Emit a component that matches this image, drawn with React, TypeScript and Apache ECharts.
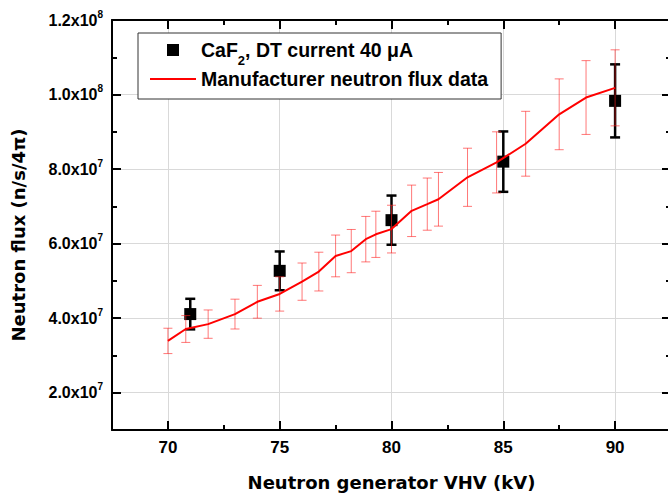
import React, { useEffect, useRef } from 'react';
import * as echarts from 'echarts';

// Manufacturer data (kV, n/s/4π, ± error)
const mfrVoltage = [70.0, 70.8, 71.8, 73.0, 74.0, 75.0, 76.0, 76.75, 77.5, 78.2, 78.85, 79.3, 80.0, 80.9, 81.6, 82.1, 83.4, 84.7, 86.0, 87.5, 88.7, 90.0];
const mfrFlux = [3.39e7, 3.71e7, 3.84e7, 4.11e7, 4.44e7, 4.65e7, 4.98e7, 5.25e7, 5.67e7, 5.80e7, 6.12e7, 6.25e7, 6.39e7, 6.88e7, 7.06e7, 7.19e7, 7.78e7, 8.18e7, 8.68e7, 9.47e7, 9.92e7, 1.018e8];
const mfrErr = [0.34e7, 0.36e7, 0.38e7, 0.40e7, 0.44e7, 0.46e7, 0.50e7, 0.52e7, 0.56e7, 0.58e7, 0.61e7, 0.62e7, 0.64e7, 0.69e7, 0.70e7, 0.72e7, 0.78e7, 0.82e7, 0.87e7, 0.95e7, 0.99e7, 1.02e7];

// CaF2 measurement
const caf2Voltage = [71, 75, 80, 85, 90];
const caf2Flux = [4.11e7, 5.27e7, 6.63e7, 8.20e7, 9.83e7];
const caf2Err = [0.41e7, 0.52e7, 0.66e7, 0.81e7, 0.98e7];

// Axes
const xMajor = [70, 75, 80, 85, 90];
const xMinor = [72.5, 77.5, 82.5, 87.5];
const yMajor = [2e7, 4e7, 6e7, 8e7, 1e8, 1.2e8];
const yMinor = [3e7, 5e7, 7e7, 9e7, 1.1e8];

const CAF2 = 'CaF2, DT current 40 μA';
const MFR = 'Manufacturer neutron flux data';

const ARIAL = 'Liberation Sans, Arial, sans-serif';
const TITLE_FONT = 'DejaVu Sans, sans-serif';

function errRender(capW: number, color: string, width: number) {
  return (params: any, api: any) => {
    const x = api.value(0);
    const lo = api.value(1);
    const hi = api.value(2);
    const t = api.coord([x, hi]);
    const b = api.coord([x, lo]);
    const h = capW / 2;
    const style = { stroke: color, lineWidth: width };
    return {
      type: 'group',
      children: [
        { type: 'line', shape: { x1: t[0], y1: t[1], x2: b[0], y2: b[1] }, style },
        { type: 'line', shape: { x1: t[0] - h, y1: t[1], x2: t[0] + h, y2: t[1] }, style },
        { type: 'line', shape: { x1: b[0] - h, y1: b[1], x2: b[0] + h, y2: b[1] }, style },
      ],
    };
  };
}

function yLabel(v: number) {
  const e = Math.floor(Math.log10(v) + 1e-9);
  const m = (v / Math.pow(10, e)).toFixed(1);
  return `{m|${m}x10}{e|${e}}`;
}

export default function App() {
  const ref = useRef<HTMLDivElement>(null);
  useEffect(() => {
    const chart = echarts.init(ref.current!, null, { renderer: 'svg' });
    const axisLine = { show: true, lineStyle: { color: '#000', width: 2 } };
    const majorTick = (vals: number[]) => ({ show: true, inside: true, length: 9, lineStyle: { color: '#000', width: 2 }, customValues: vals });
    const minorTick = (vals: number[]) => ({ show: true, inside: true, length: 5, lineStyle: { color: '#000', width: 2 }, customValues: vals });
    const hidden = { show: false };
    const xBase = { type: 'value', min: 67.5, max: 92.5, gridIndex: 0 };
    const yBase = { type: 'value', min: 1e7, max: 1.2e8, gridIndex: 0 };

    const option: any = {
      animation: false,
      backgroundColor: '#fff',
      grid: { left: 112, top: 20, right: -3, bottom: 68, containLabel: false, outerBoundsMode: 'none' },
      legend: {
        left: 138,
        top: 33,
        orient: 'vertical',
        itemWidth: 46,
        itemHeight: 12,
        itemGap: 2.5,
        padding: [0.5, 13, 10, 12],
        borderColor: '#333',
        borderWidth: 1,
        backgroundColor: '#fff',
        selectedMode: false,
        data: [
          { name: CAF2, icon: 'path://M0 0H10V10H0Z', itemStyle: { color: '#000', opacity: 1 } },
          { name: MFR, icon: 'path://M0 0H46V2H0Z', itemStyle: { color: '#ff0000', opacity: 1 } },
        ],
        formatter: (n: string) => (n === CAF2 ? '{a|CaF}{s|2}{a|, DT current 40 μA}' : `{a|${n}}`),
        textStyle: {
          rich: {
            a: { fontSize: 19.5, fontWeight: 'bold', fontFamily: ARIAL, color: '#000', lineHeight: 22 },
            s: { fontSize: 13, fontWeight: 'bold', fontFamily: ARIAL, color: '#000', lineHeight: 13, padding: [20, 0, 0, 0] },
          },
        },
      },
      xAxis: [
        {
          ...xBase,
          position: 'bottom',
          axisLine,
          axisTick: majorTick(xMajor),
          axisLabel: { customValues: xMajor, margin: 8.5, fontSize: 17, fontWeight: 'bold', fontFamily: ARIAL, color: '#000' },
          splitLine: { show: true, lineStyle: { color: '#d9d9d9', width: 1 } },
          name: 'Neutron generator VHV (kV)',
          nameLocation: 'middle',
          nameGap: 43,
          nameTextStyle: { fontSize: 18, fontWeight: 'bold', fontFamily: TITLE_FONT, color: '#000' },
        },
        { ...xBase, position: 'bottom', axisLine: hidden, axisTick: minorTick(xMinor), axisLabel: hidden, splitLine: hidden },
        { ...xBase, position: 'top', axisLine, axisTick: majorTick(xMajor), axisLabel: hidden, splitLine: hidden },
        { ...xBase, position: 'top', axisLine: hidden, axisTick: minorTick(xMinor), axisLabel: hidden, splitLine: hidden },
      ],
      yAxis: [
        {
          ...yBase,
          position: 'left',
          axisLine,
          axisTick: majorTick(yMajor),
          axisLabel: {
            customValues: yMajor,
            margin: 9,
            formatter: yLabel,
            rich: {
              m: { fontSize: 16, fontWeight: 'bold', fontFamily: ARIAL, color: '#000', lineHeight: 16 },
              e: { fontSize: 10, fontWeight: 'bold', fontFamily: ARIAL, color: '#000', lineHeight: 10, padding: [0, 0, 12, 0] },
            },
          },
          splitLine: { show: true, lineStyle: { color: '#d9d9d9', width: 1 } },
          name: 'Neutron flux (n/s/4π)',
          nameLocation: 'middle',
          nameGap: 85,
          nameTextStyle: { fontSize: 18, fontWeight: 'bold', fontFamily: TITLE_FONT, color: '#000', padding: [0, 20, 0, 0] },
        },
        { ...yBase, position: 'left', axisLine: hidden, axisTick: minorTick(yMinor), axisLabel: hidden, splitLine: hidden },
        { ...yBase, position: 'right', axisLine, axisTick: majorTick(yMajor), axisLabel: hidden, splitLine: hidden },
        { ...yBase, position: 'right', axisLine: hidden, axisTick: minorTick(yMinor), axisLabel: hidden, splitLine: hidden },
      ],
      series: [
        {
          name: CAF2 + ' error',
          type: 'custom',
          xAxisIndex: 0,
          yAxisIndex: 0,
          z: 3,
          renderItem: errRender(10, '#000', 2.5),
          encode: { x: 0, y: [1, 2] },
          data: caf2Voltage.map((v, i) => [v, caf2Flux[i] - caf2Err[i], caf2Flux[i] + caf2Err[i]]),
        },
        {
          name: CAF2,
          type: 'scatter',
          xAxisIndex: 0,
          yAxisIndex: 0,
          z: 4,
          symbol: 'rect',
          symbolSize: 12,
          itemStyle: { color: '#000', opacity: 1 },
          data: caf2Voltage.map((v, i) => [v, caf2Flux[i]]),
        },
        {
          name: MFR + ' error',
          type: 'custom',
          xAxisIndex: 0,
          yAxisIndex: 0,
          z: 5,
          renderItem: errRender(9, 'rgba(255,30,30,0.6)', 1),
          encode: { x: 0, y: [1, 2] },
          data: mfrVoltage.map((v, i) => [v, mfrFlux[i] - mfrErr[i], mfrFlux[i] + mfrErr[i]]),
        },
        {
          name: MFR,
          type: 'line',
          xAxisIndex: 0,
          yAxisIndex: 0,
          z: 6,
          symbol: 'none',
          showSymbol: false,
          lineStyle: { color: '#ff0000', width: 2 },
          itemStyle: { color: '#ff0000' },
          data: mfrVoltage.map((v, i) => [v, mfrFlux[i]]),
        },
      ],
    };
    chart.setOption(option);
    return () => chart.dispose();
  }, []);
  return <div ref={ref} style={{ position: 'absolute', left: 0, top: 0, width: 668, height: 498 }} />;
}
